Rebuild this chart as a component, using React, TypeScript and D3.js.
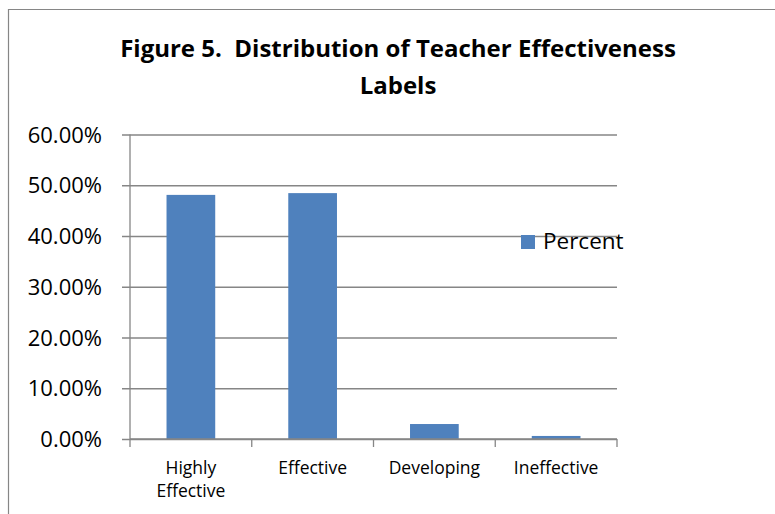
import React, { useEffect, useRef } from 'react';
import * as d3 from 'd3';

const categories = ['Highly Effective', 'Effective', 'Developing', 'Ineffective'];
const percentValues = [48.1, 48.45, 2.95, 0.6];
const yTickValues = [0, 10, 20, 30, 40, 50, 60];
const seriesName = 'Percent';
const titleLines = ['Figure 5.  Distribution of Teacher Effectiveness', 'Labels'];

const W = 775;
const H = 514;
const FONT = '"Open Sans", "Liberation Sans", sans-serif';
const GRID = '#868686';
const BAR = '#4F81BD';

export default function App() {
  const ref = useRef<SVGSVGElement | null>(null);

  useEffect(() => {
    document.body.style.margin = '0';
    const svg = d3.select(ref.current);
    svg.selectAll('*').remove();

    const left = 130, right = 617, top = 134.5, bottom = 439;

    const x = d3.scaleBand<string>().domain(categories).range([left, right]).paddingInner(0).paddingOuter(0);
    const y = d3.scaleLinear().domain([0, 60]).range([bottom, top]);

    // outer frame (only top and left edges are visible)
    svg.append('path')
      .attr('d', `M8.5,${H} V9.5 H${W}`)
      .attr('fill', 'none')
      .attr('stroke', GRID)
      .attr('stroke-width', 1.2);

    // title
    svg.append('g')
      .selectAll('text')
      .data(titleLines)
      .enter()
      .append('text')
      .attr('x', 398)
      .attr('y', (d, i) => 57 + i * 37)
      .attr('text-anchor', 'middle')
      .style('font-family', FONT)
      .style('font-weight', 'bold')
      .style('font-size', '24px')
      .style('white-space', 'pre')
      .style('fill', '#000')
      .text(d => d);

    // gridlines + y ticks
    const yAxis = d3.axisLeft(y)
      .tickValues(yTickValues)
      .tickSize(-(right - left))
      .tickSizeOuter(0)
      .tickFormat(d => `${(+d).toFixed(2)}%`);
    const gy = svg.append('g').attr('transform', `translate(${left},0)`).call(yAxis);
    gy.select('.domain').remove();
    gy.selectAll('.tick line')
      .attr('x1', -8)
      .attr('stroke', GRID)
      .attr('stroke-width', 1.3);
    gy.selectAll('.tick text')
      .attr('x', -28)
      .attr('dy', '0.35em')
      .style('font-family', FONT)
      .style('font-size', '22px')
      .style('fill', '#000');

    // y axis line
    svg.append('line')
      .attr('x1', left).attr('x2', left)
      .attr('y1', top).attr('y2', bottom)
      .attr('stroke', GRID)
      .attr('stroke-width', 1.3);

    // bars
    const bw = x.bandwidth() * 0.4;
    svg.append('g')
      .selectAll('rect')
      .data(categories)
      .enter()
      .append('rect')
      .attr('x', d => (x(d) as number) + (x.bandwidth() - bw) / 2)
      .attr('y', (d, i) => y(percentValues[i]))
      .attr('width', bw)
      .attr('height', (d, i) => bottom - y(percentValues[i]))
      .attr('fill', BAR);

    // x axis
    const gx = svg.append('g').attr('transform', `translate(0,${bottom})`);
    gx.append('line')
      .attr('x1', left).attr('x2', right)
      .attr('stroke', GRID)
      .attr('stroke-width', 1.3);
    const boundaries = categories.map(c => x(c) as number).concat([right]);
    gx.selectAll('line.tk')
      .data(boundaries)
      .enter()
      .append('line')
      .attr('class', 'tk')
      .attr('x1', d => d).attr('x2', d => d)
      .attr('y1', 0).attr('y2', 8)
      .attr('stroke', GRID)
      .attr('stroke-width', 1.3);

    const labels = gx.selectAll('text')
      .data(categories)
      .enter()
      .append('text')
      .attr('x', d => (x(d) as number) + x.bandwidth() / 2)
      .attr('y', 35)
      .attr('text-anchor', 'middle')
      .style('font-family', FONT)
      .style('font-size', '17.5px')
      .style('fill', '#000');
    labels.each(function (d) {
      const words = d === 'Highly Effective' ? ['Highly', 'Effective'] : [d];
      const t = d3.select(this);
      words.forEach((w, i) => {
        t.append('tspan')
          .attr('x', t.attr('x'))
          .attr('dy', i === 0 ? 0 : 23)
          .text(w);
      });
    });

    // legend
    const lg = svg.append('g').attr('transform', 'translate(521,235)');
    lg.append('rect').attr('width', 14).attr('height', 14).attr('fill', BAR);
    lg.append('text')
      .attr('x', 22)
      .attr('y', 14)
      .style('font-family', FONT)
      .style('font-size', '22.5px')
      .style('fill', '#000')
      .text(seriesName);
  }, []);

  return <svg ref={ref} width={W} height={H} style={{ display: 'block', background: '#fff' }} />;
}
